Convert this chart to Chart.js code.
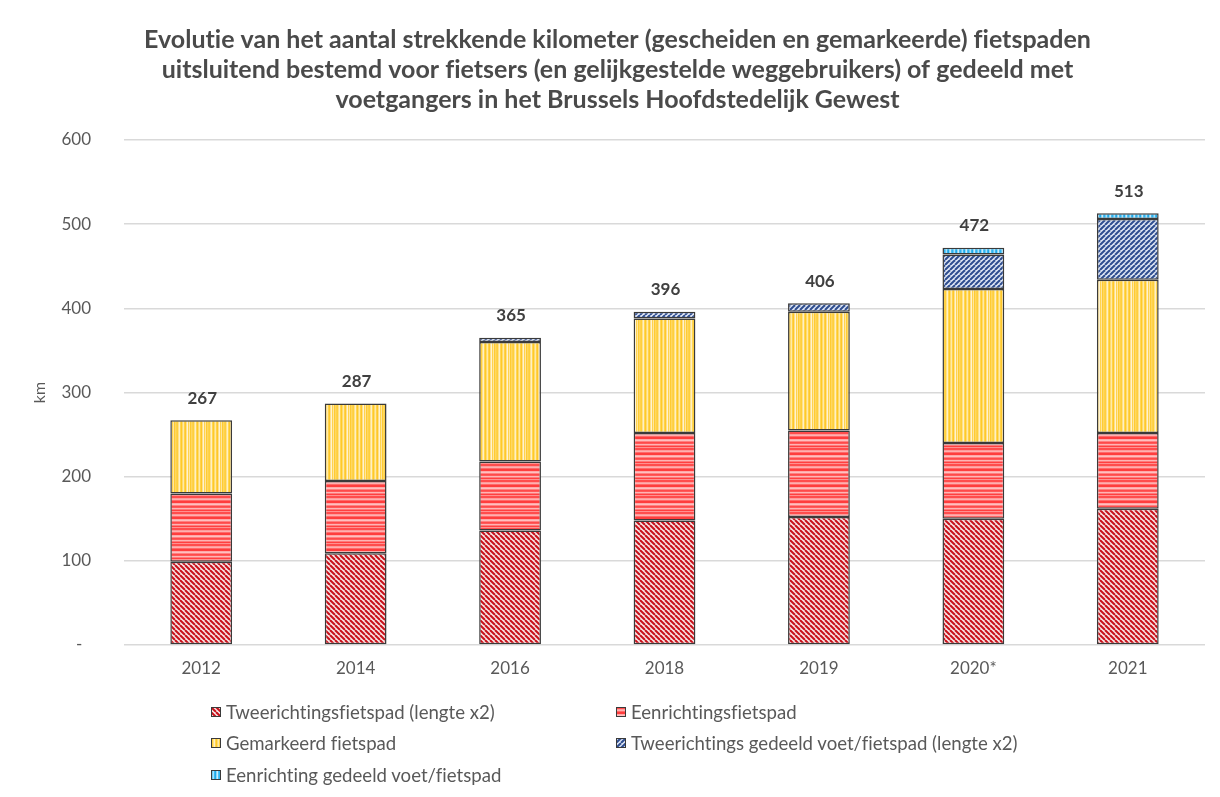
<!DOCTYPE html>
<html><head><meta charset="utf-8">
<script src="https://cdn.jsdelivr.net/npm/chart.js@4.4.1/dist/chart.umd.min.js"></script>
<style>
html,body{margin:0;padding:0;background:#fff;}
#wrap{position:relative;width:1220px;height:797px;}
#legend{position:absolute;left:0;top:0;width:1220px;height:797px;pointer-events:none;font-family:Lato,'Open Sans',sans-serif;font-size:18.6px;color:#595959;font-variant-ligatures:none;}
.item{position:absolute;height:22px;display:flex;align-items:center;white-space:nowrap;}
.item canvas{display:block;margin-right:5px;}
</style></head>
<body><div id="wrap"><canvas id="c" width="1220" height="797"></canvas><div id="legend"></div></div>
<script>
// ---- data ----
const categories = ['2012','2014','2016','2018','2019','2020*','2021'];
const tweerichtingsFietspad = [99,109,136,148,152,150,162];
const eenrichtingsFietspad = [81,86,82,104,103,90,90];
const gemarkeerdFietspad = [87,92,142,136,141,183,182];
const tweerichtingsGedeeld = [null,null,5,8,10,41,72];
const eenrichtingGedeeld = [null,null,null,null,null,8,7];
const totals = [267,287,365,396,406,472,513];
const yTicks = [0,100,200,300,400,500,600];
const seriesNames = [
  'Tweerichtingsfietspad (lengte x2)',
  'Eenrichtingsfietspad',
  'Gemarkeerd fietspad',
  'Tweerichtings gedeeld voet/fietspad (lengte x2)',
  'Eenrichting gedeeld voet/fietspad'
];
const titleLines = [
  'Evolutie van het aantal strekkende kilometer (gescheiden en gemarkeerde) fietspaden',
  'uitsluitend bestemd voor fietsers (en gelijkgestelde weggebruikers) of gedeeld met',
  'voetgangers in het Brussels Hoofdstedelijk Gewest'
];

// ---- patterns ----
const FONT = "Lato, 'Open Sans', sans-serif";
function tile(w,h,fn){const c=document.createElement('canvas');c.width=w;c.height=h;fn(c.getContext('2d'),w,h);return c;}
function pat(t){return document.getElementById('c').getContext('2d').createPattern(t,'repeat');}
function diag(bg,fg,s,lw,dir){return tile(s,s,(x,w,h)=>{x.fillStyle=bg;x.fillRect(0,0,w,h);x.strokeStyle=fg;x.lineWidth=lw;
  for(let k=-1;k<=1;k++){x.beginPath();if(dir>0){x.moveTo(k*s,0);x.lineTo(k*s+s,s);}else{x.moveTo(k*s,s);x.lineTo(k*s+s,0);}x.stroke();}});}
function hstripes(cols){return tile(1,cols.length,(x)=>{cols.forEach((c,i)=>{x.fillStyle=c;x.fillRect(0,i,1,1);});});}
function vstripes(cols){return tile(cols.length,1,(x)=>{cols.forEach((c,i)=>{x.fillStyle=c;x.fillRect(i,0,1,1);});});}
const tiles = [
  diag('#f7e4e4','#c8101a',5,2,1),
  hstripes(['#ff4d4d','#ff4d4d','#ff9a9a','#ffb0b0','#ff6a6a','#ff3d3d','#ff3d3d','#ffa8a8','#ffc0c0','#ff8080','#ff4a4a','#ff5a5a','#ffb5b5','#ff7a7a','#ff4040','#ff9090']),
  vstripes(['#ffd24a','#ffcf3c','#ffe28a','#fff0c4','#ffd655','#ffc928','#ffdc70','#ffeaa8','#ffd24a','#ffc72a','#ffe08a','#fff3d0','#ffd34d','#ffe6a0','#ffcb33','#ffd860']),
  diag('#dfe6f5','#2e4d8f',5,2,-1),
  vstripes(['#2fb3ef','#6ccaf5','#a9e2fb','#3cb8f0','#1fa9e8','#8dd6f8','#c8ecfc','#4bbff2'])
];
const patterns = tiles.map(pat);
const seriesData = [tweerichtingsFietspad,eenrichtingsFietspad,gemarkeerdFietspad,tweerichtingsGedeeld,eenrichtingGedeeld];

const noLigatures = {
  id:'noLigatures',
  beforeInit(chart){ chart.ctx.textRendering='optimizeSpeed'; },
  beforeDraw(chart){ chart.ctx.textRendering='optimizeSpeed'; }
};
const totalLabels = {
  id:'totalLabels',
  afterDatasetsDraw(chart){
    const ctx=chart.ctx, xs=chart.scales.x, ys=chart.scales.y;
    ctx.save();ctx.font='bold 17px '+FONT;ctx.fillStyle='#404040';ctx.textAlign='center';ctx.textBaseline='middle';
    totals.forEach((t,i)=>{ctx.fillText(String(t),xs.getPixelForValue(i)+1,ys.getPixelForValue(t)-22);});
    ctx.restore();
  }
};

new Chart(document.getElementById('c'),{
  type:'bar',
  data:{labels:categories,datasets:seriesData.map((d,i)=>({label:seriesNames[i],data:d,backgroundColor:patterns[i],borderColor:'#3a3a3a',borderWidth:1.5,borderSkipped:false,barPercentage:0.4,categoryPercentage:1}))},
  options:{
    responsive:false,animation:false,devicePixelRatio:1,
    layout:{padding:{left:30,right:15,top:0,bottom:107}},
    plugins:{
      legend:{display:false},tooltip:{enabled:false},
      title:{display:true,text:titleLines,color:'#4a4a4a',font:{family:FONT,size:25,weight:'bold',lineHeight:1.2},padding:{top:25,bottom:25}}
    },
    scales:{
      x:{stacked:true,grid:{display:false,drawTicks:false},border:{display:false},
        ticks:{color:'#595959',font:{family:FONT,size:17},padding:13},
        afterFit(s){s.height=45;}},
      y:{stacked:true,min:0,max:600,
        grid:{color:'#d9d9d9',lineWidth:1.5,drawTicks:false},border:{display:false},
        afterBuildTicks(s){s.ticks=yTicks.map(v=>({value:v}));},
        ticks:{color:'#595959',font:{family:FONT,size:17},padding:33,callback:v=>v===0?'-  ':String(v)},
        title:{display:true,text:'km',color:'#595959',font:{family:FONT,size:16},padding:{top:0,bottom:0}},
        afterFit(s){s.width=124-30;}}
    }
  },
  plugins:[noLigatures,totalLabels]
});

// ---- legend (HTML) ----
const legendPos=[[211,712],[616,712],[211,743],[616,743],[211,775]];
const lg=document.getElementById('legend');
seriesNames.forEach((n,i)=>{
  const d=document.createElement('div');d.className='item';d.style.left=legendPos[i][0]+'px';d.style.top=(legendPos[i][1]-11)+'px';
  const sw=document.createElement('canvas');sw.width=10;sw.height=10;const x=sw.getContext('2d');
  x.fillStyle=x.createPattern(tiles[i],'repeat');x.fillRect(0,0,10,10);x.strokeStyle='#3a3a3a';x.lineWidth=1;x.strokeRect(0.5,0.5,9,9);
  d.appendChild(sw);const s=document.createElement('span');s.textContent=n;d.appendChild(s);lg.appendChild(d);
});
</script>
</body></html>
